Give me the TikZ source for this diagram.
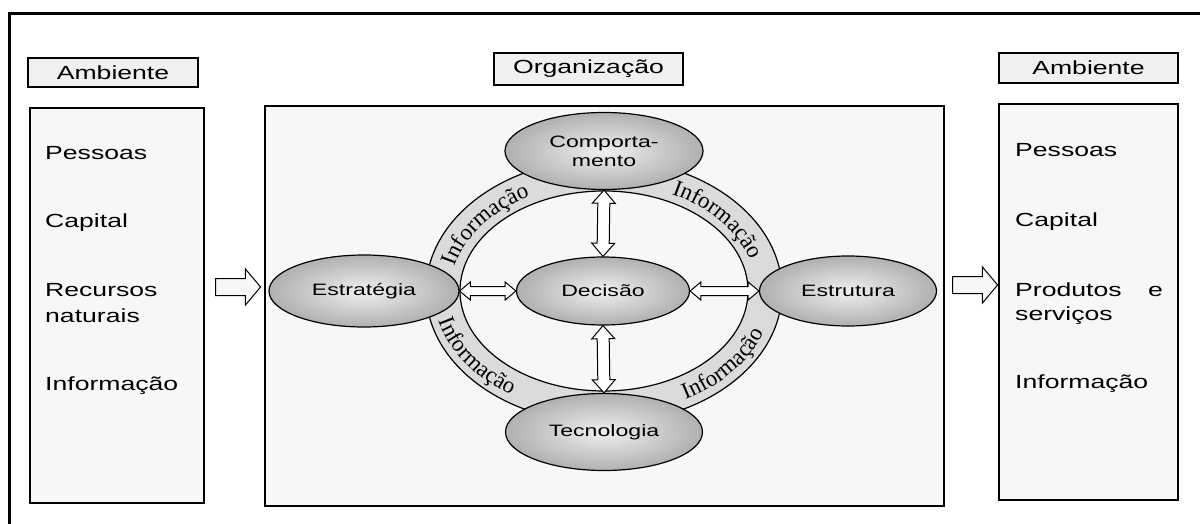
\documentclass[tikz,border=0pt]{standalone}
\usepackage{fontspec}
\setmainfont{Liberation Sans}[FakeStretch=1.4]
\newfontfamily\infofont{Liberation Serif}
\usepackage{tikz}
\usetikzlibrary{shapes.geometric,shapes.arrows}
\usetikzlibrary{calc,decorations.text}

% double arrow between two anchors
\newcommand{\twoway}[4]{%
  \path let \p1=($(#2)-(#1)$), \n1={veclen(\x1,\y1)}, \n2={atan2(\y1,\x1)} in
    node[#3, minimum height=\n1, rotate=\n2] (#4) at ($(#1)!0.5!(#2)$) {};}

\begin{document}
\begin{tikzpicture}[x=1pt,y=1pt]
\tikzstyle{labelbox} = [draw, line width=1.2pt, fill=gray!12, inner sep=0pt, font=\fontsize{19}{22}\selectfont]
\tikzstyle{bigbox} = [draw, line width=1.6pt, fill=gray!6, inner sep=0pt]
\tikzstyle{item} = [anchor=base west, inner sep=0pt, font=\fontsize{19}{22}\selectfont]
\tikzstyle{blob} = [ellipse, draw, line width=1.2pt, inner sep=2pt, shade, inner color=gray!12, outer color=gray!62, align=center, font=\fontsize{16.5}{19}\selectfont]
\tikzstyle{vdbl} = [double arrow, draw, fill=white, line width=1pt, inner xsep=0pt, inner ysep=5.5pt, double arrow head extend=5.5pt, double arrow tip angle=82]
\tikzstyle{hdbl} = [double arrow, draw, fill=white, line width=1pt, inner xsep=0pt, inner ysep=4pt, double arrow head extend=4.5pt, double arrow tip angle=80]
\tikzstyle{inarr} = [single arrow, draw, fill=gray!6, line width=1pt, inner xsep=0pt, inner ysep=8pt, single arrow head extend=9.5pt, single arrow tip angle=100, minimum height=45pt]
\tikzstyle{info} = [decorate, decoration={text along path, text align=center, text={|\infofont\fontsize{23}{25}\selectfont|Informação}}]

\useasboundingbox (0,0) rectangle (1200,523);
\draw[line width=3pt] (9,-10) |- (1210,509);

% environment in / organisation / environment out
\node[labelbox, minimum width=170pt, minimum height=29pt] (ambL) at (113,450.5) {Ambiente};
\node[labelbox, minimum width=189pt, minimum height=32pt] (orgl) at (588.5,454) {Organização};
\node[labelbox, minimum width=179pt, minimum height=30pt] (ambR) at (1088.5,455) {Ambiente};

\node[bigbox, minimum width=174pt, minimum height=395pt] (envL) at (117,217.5) {};
\node[bigbox, minimum width=679pt, minimum height=400pt] (org) at (604.5,217) {};
\node[bigbox, minimum width=179pt, minimum height=396pt] (envR) at (1088.5,221) {};

\foreach \txt/\yy [count=\i] in {Pessoas/363, Capital/295, Recursos/226, naturais/201, Informação/133}
  \node[item] (inL\i) at (45,\yy) {\txt};
\foreach \txt/\yy [count=\i] in {Pessoas/366, Capital/296, Produtos/227, serviços/203, Informação/135}
  \node[item] (inR\i) at (1015,\yy) {\txt};
\node[item, anchor=base east] (inRe) at (1163,227) {e};

% ring
\draw[line width=1.2pt, fill=gray!28, even odd rule]
  (604,232) ellipse [x radius=178, y radius=132]
  (604,232) ellipse [x radius=144, y radius=100];
\path[info] (604,232) ++(168:153 and 108) arc[start angle=168, end angle=118, x radius=153, y radius=108];
\path[info] (604,232) ++(65:153 and 108) arc[start angle=65, end angle=15, x radius=153, y radius=108];
\path[info] (604,232) ++(190:170 and 124) arc[start angle=190, end angle=240, x radius=170, y radius=124];
\path[info] (604,232) ++(295:170 and 124) arc[start angle=295, end angle=345, x radius=170, y radius=124];

\node[blob, minimum width=198pt, minimum height=77pt] (com) at (604,372) {Comporta-\\mento};
\node[blob, minimum width=173pt, minimum height=68pt] (dec) at (603,232) {Decisão};
\node[blob, minimum width=197pt, minimum height=77pt] (tec) at (604,91) {Tecnologia};
\node[blob, minimum width=190pt, minimum height=72pt] (est) at (364,232) {Estratégia};
\node[blob, minimum width=177pt, minimum height=70pt] (estr) at (848,232) {Estrutura};

\twoway{com.south}{dec.north}{vdbl}{a1}
\twoway{dec.south}{tec.north}{vdbl}{a2}
\twoway{est.east}{dec.west}{hdbl}{a3}
\twoway{dec.east}{estr.west}{hdbl}{a4}

\node[inarr, yshift=4pt] (inA) at ($(envL.east |- est)!0.5!(org.west |- est)$) {};
\node[inarr, yshift=6pt] (outA) at ($(org.east |- est)!0.5!(envR.west |- est)$) {};
\end{tikzpicture}
\end{document}
